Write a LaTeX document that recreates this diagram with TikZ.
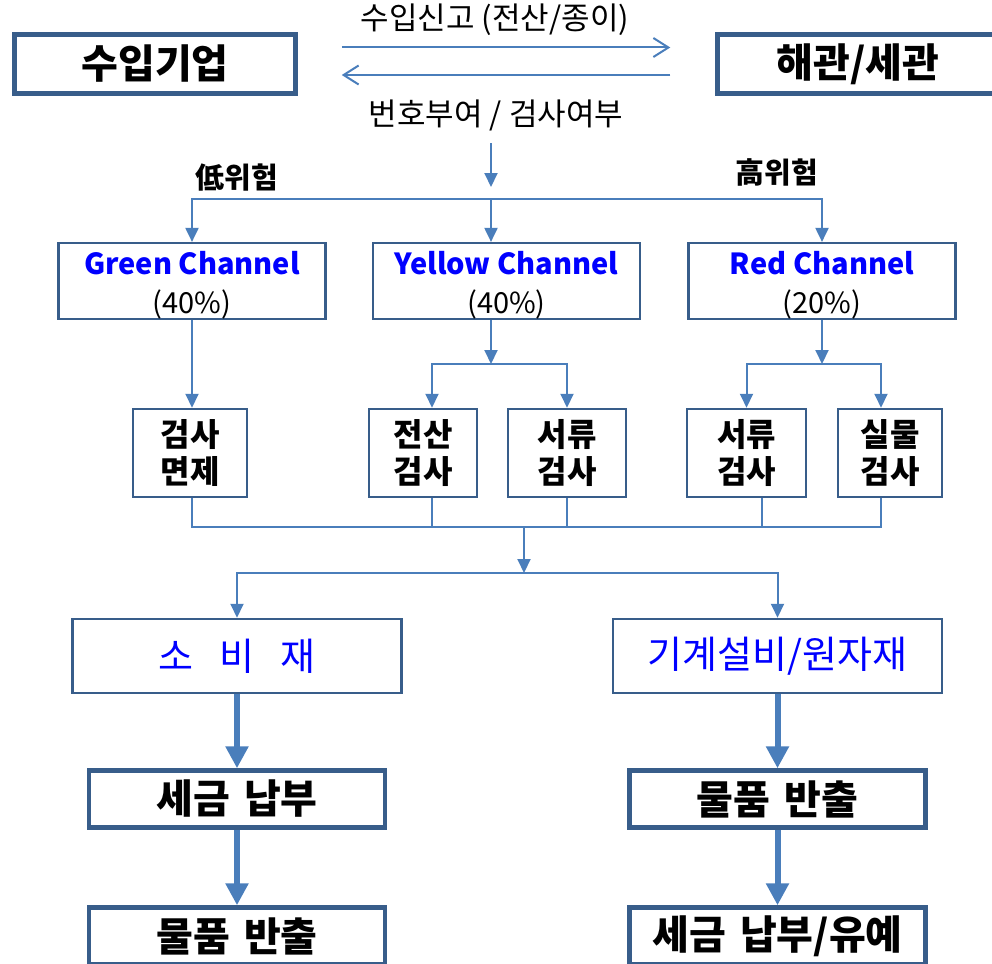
\documentclass[tikz,border=0pt]{standalone}
\usepackage{fontspec}
\setmainfont{Noto Sans CJK KR}
\usetikzlibrary{arrows.meta}
\definecolor{boxline}{HTML}{385D8A}
\definecolor{flowline}{HTML}{4A7EBB}
\definecolor{chanblue}{HTML}{0000FF}
\tikzset{
    mainbox/.style={draw=boxline, line width=4.5pt, inner sep=0pt, minimum width=281pt, minimum height=59pt, font=\bfseries\fontsize{40}{40}\selectfont},
    chanbox/.style={draw=boxline, line width=2.5pt, inner sep=0pt, align=center, minimum width=267pt, minimum height=74pt, font=\fontsize{29}{39}\selectfont},
    checkbox/.style={draw=boxline, line width=2.5pt, inner sep=0pt, align=center, minimum height=88pt, font=\bfseries\fontsize{32}{37}\selectfont},
    goodsbox/.style={draw=boxline, line width=2.5pt, inner sep=0pt, minimum width=329pt, minimum height=74pt, text=chanblue, font=\fontsize{38}{38}\selectfont},
    stepbox/.style={draw=boxline, line width=4.5pt, inner sep=0pt, minimum width=296pt, minimum height=57pt, font=\bfseries\fontsize{40}{40}\selectfont},
    note/.style={font=\fontsize{31}{31}\selectfont},
    risk/.style={font=\bfseries\fontsize{29}{29}\selectfont},
    flow/.style={draw=flowline, line width=2pt},
    flowtip/.style={-{Triangle[length=14pt,width=13pt]}},
    opentip/.style={-{Straight Barb[length=15pt,width=19pt]}},
    bigflow/.style={draw=flowline, line width=6pt, -{Triangle[length=22pt,width=22pt]}},
}
\newcommand{\chan}[2]{\rule{0pt}{31pt}\textcolor{chanblue}{\bfseries #1}\\#2}
\begin{document}
\begin{tikzpicture}[x=1pt,y=-1pt]
    \useasboundingbox (0,0) rectangle (992,963);
    % declaration between firm and customs
    \node[mainbox] (firm) at (155,64) {수입기업};
    \node[mainbox] (cust) at (858,64) {해관/세관};
    \node[note] (declare) at (495,20) {수입신고 (전산/종이)};
    \node[note] (reply) at (496,115) {번호부여 / 검사여부};
    \path ([yshift=16.5pt]firm.east) edge[flow, opentip, shorten <=44pt, shorten >=45pt] ([yshift=16.5pt]cust.west);
    \path ([yshift=-11pt]cust.west) edge[flow, opentip, shorten <=45pt, shorten >=44pt] ([yshift=-11pt]firm.east);
    % channels
    \node[risk] (low) at (237,178) {低위험};
    \node[risk] (high) at (777,172) {高위험};
    \node[chanbox] (green) at (192,281) {\chan{Green Channel}{(40\%)}};
    \node[chanbox] (yellow) at (506.5,281) {\chan{Yellow Channel}{(40\%)}};
    \node[chanbox] (red) at (822,281) {\chan{Red Channel}{(20\%)}};
    \coordinate (ask) at (491,143);
    \coordinate (sort) at (491,187);
    \coordinate (split) at (491,199);
    \draw[flow,flowtip] (ask) -- (sort);
    \draw[flow,flowtip] (split) -| (green.north);
    \draw[flow,flowtip] (split) -| (red.north);
    \draw[flow,flowtip] (split) -- (split |- yellow.north);
    % inspections
    \node[checkbox, minimum width=114pt] (exempt) at (190,453) {검사\\면제};
    \node[checkbox, minimum width=108pt] (edi) at (423,453) {전산\\검사};
    \node[checkbox, minimum width=118pt] (docY) at (567,453) {서류\\검사};
    \node[checkbox, minimum width=119pt] (docR) at (746.5,453) {서류\\검사};
    \node[checkbox, minimum width=104pt] (phys) at (890,453) {실물\\검사};
    \coordinate (ysplit) at (491,364);
    \coordinate (rsplit) at (822,364);
    \draw[flow,flowtip] (green.south) -- (green.south |- exempt.north);
    \draw[flow,flowtip] (yellow.south -| ysplit) -- (ysplit);
    \draw[flow,flowtip] (ysplit) -| ([xshift=9pt]edi.north);
    \draw[flow,flowtip] (ysplit) -| (docY.north);
    \draw[flow,flowtip] (red.south) -- (rsplit);
    \draw[flow,flowtip] (rsplit) -| (docR.north);
    \draw[flow,flowtip] (rsplit) -| ([xshift=-9pt]phys.north);
    % merge into goods type
    \coordinate (merge) at (524,527);
    \coordinate (fork) at (524,573);
    \draw[flow] ([xshift=2pt]exempt.south) |- (merge);
    \draw[flow] ([xshift=9pt]edi.south) |- (merge);
    \draw[flow] (docY.south) |- (merge);
    \draw[flow] ([xshift=15pt]docR.south) |- (merge);
    \draw[flow] ([xshift=-9pt]phys.south) |- (merge);
    \draw[flow,flowtip] (merge) -- (fork);
    \node[goodsbox] (goods) at (237,656) {소\hspace{26pt}비\hspace{26pt}재};
    \node[goodsbox] (machine) at (777.5,656) {기계설비/원자재};
    \draw[flow,flowtip] (fork) -| (goods.north);
    \draw[flow,flowtip] (fork) -| (machine.north);
    % tax and release
    \node[stepbox] (paytax) at (237,799) {세금\hspace{14pt}납부};
    \node[stepbox] (release) at (237,936) {물품\hspace{14pt}반출};
    \node[stepbox] (releaseM) at (777.5,799) {물품\hspace{14pt}반출};
    \node[stepbox] (defer) at (777.5,936) {세금\hspace{14pt}납부/유예};
    \draw[bigflow] (goods) -- (paytax);
    \draw[bigflow] (paytax) -- (release);
    \draw[bigflow] (machine) -- (releaseM);
    \draw[bigflow] (releaseM) -- (defer);
\end{tikzpicture}
\end{document}
